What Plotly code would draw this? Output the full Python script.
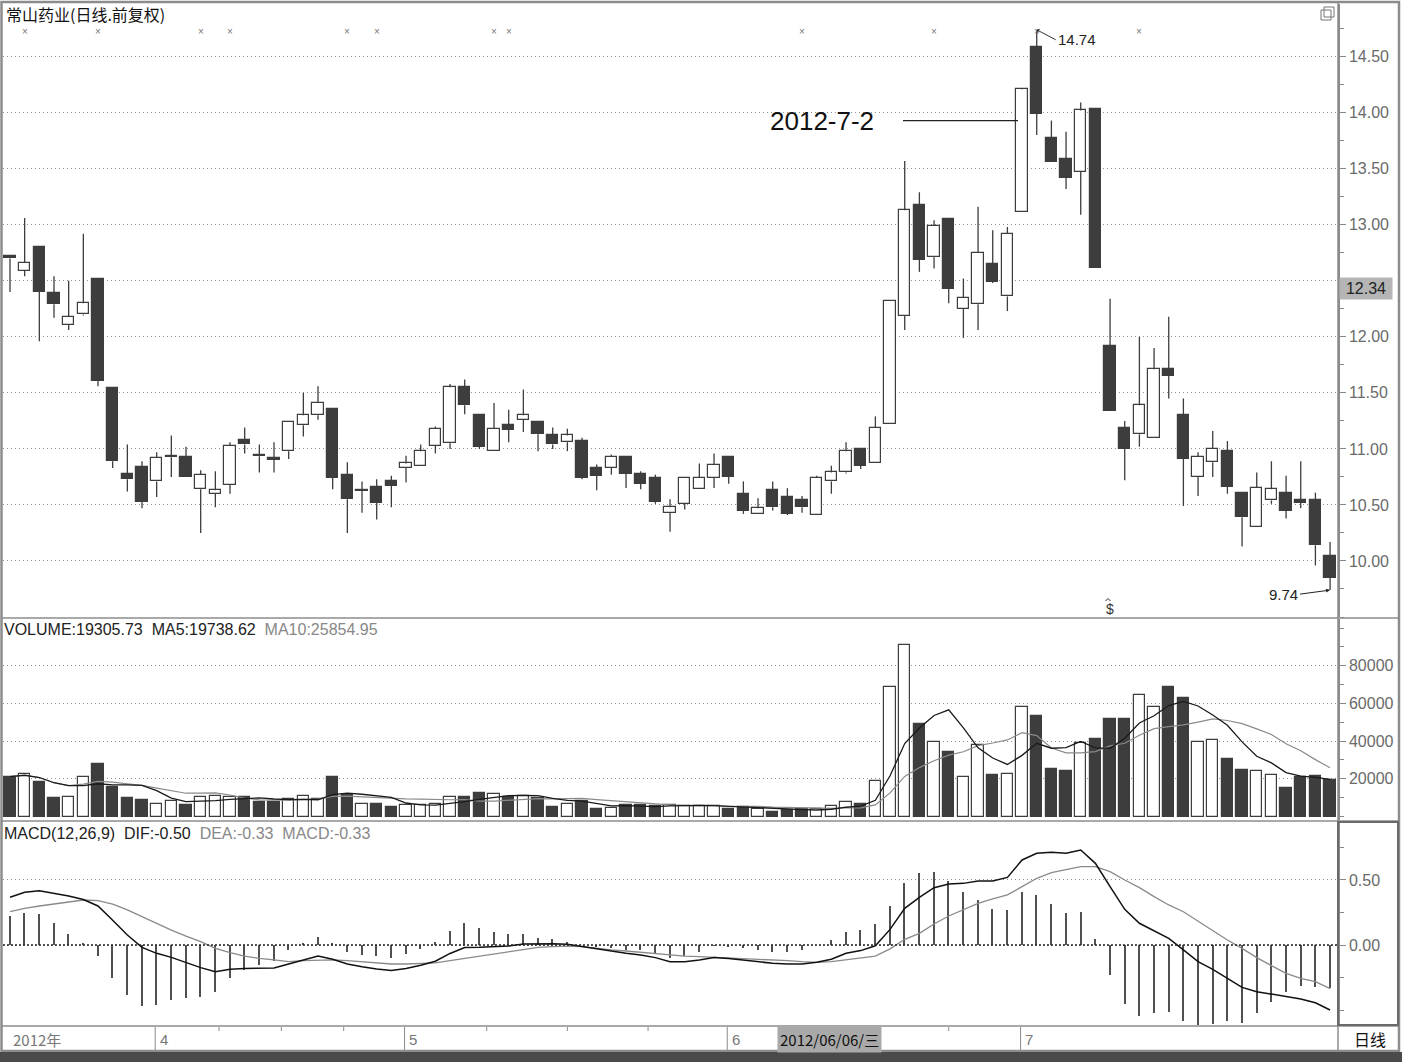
import plotly.graph_objects as go
import pandas as pd

# ---------------- data ----------------
open_ = [12.72,12.59,12.80,12.39,12.11,12.20,12.52,11.54,10.78,10.84,
         10.71,10.925,10.93,10.64,10.60,10.68,11.08,10.94,10.91,10.98,
         11.21,11.30,11.36,10.77,10.625,10.66,10.71,10.83,10.85,11.03,
         11.05,11.55,11.30,10.98,11.21,11.26,11.24,11.12,11.06,11.07,
         10.83,10.83,10.93,10.78,10.74,10.43,10.51,10.64,10.74,10.93,
         10.60,10.42,10.63,10.57,10.54,10.41,10.71,10.79,11.00,10.87,
         11.22,12.19,13.18,12.71,13.05,12.25,12.29,12.65,12.36,13.11,
         14.59,13.77,13.59,13.47,14.03,11.92,11.19,11.13,11.10,11.71,
         11.30,10.75,10.88,10.98,10.61,10.30,10.54,10.61,10.54,10.54,
         10.04]
high = [12.72,13.06,12.80,12.54,12.50,12.92,12.52,11.54,11.04,10.89,
        10.97,11.12,11.02,10.81,10.80,11.06,11.19,11.04,11.06,11.25,
        11.50,11.56,11.36,10.88,10.71,10.73,10.76,10.94,11.04,11.20,
        11.58,11.62,11.30,11.41,11.35,11.53,11.24,11.19,11.18,11.10,
        10.86,10.95,10.93,10.80,10.77,10.55,10.75,10.87,10.96,10.93,
        10.71,10.56,10.71,10.65,10.58,10.76,10.85,11.06,11.00,11.29,
        12.32,13.57,13.29,13.04,13.05,12.52,13.16,12.95,12.98,14.22,
        14.74,13.93,13.83,14.09,14.03,12.34,11.25,12.00,11.90,12.18,
        11.45,10.97,11.16,11.07,10.61,10.79,10.89,10.76,10.89,10.61,
        10.17]
low = [12.40,12.54,11.96,12.17,12.06,12.19,11.56,10.83,10.62,10.47,
       10.57,10.75,10.75,10.25,10.48,10.60,10.96,10.79,10.79,10.91,
       11.11,11.26,10.64,10.25,10.43,10.37,10.48,10.70,10.85,10.96,
       11.00,11.31,11.00,10.98,11.06,11.15,10.98,11.00,10.98,10.73,
       10.63,10.77,10.65,10.64,10.51,10.26,10.46,10.64,10.65,10.69,
       10.42,10.42,10.45,10.41,10.43,10.41,10.60,10.78,10.82,10.87,
       11.22,12.06,12.58,12.61,12.30,11.99,12.06,12.48,12.23,13.11,
       13.80,13.56,13.32,13.09,12.61,11.34,10.72,11.02,11.10,11.45,
       10.49,10.58,10.75,10.60,10.13,10.30,10.51,10.38,10.47,9.96,
       9.74]
close = [12.70,12.66,12.40,12.29,12.18,12.30,11.61,10.89,10.73,10.53,
         10.92,10.935,10.75,10.77,10.63,11.03,11.04,10.935,10.905,11.24,
         11.30,11.41,10.74,10.55,10.635,10.52,10.67,10.87,10.98,11.18,
         11.55,11.39,11.02,11.18,11.17,11.30,11.13,11.04,11.12,10.74,
         10.76,10.93,10.78,10.69,10.53,10.48,10.74,10.74,10.86,10.75,
         10.45,10.47,10.48,10.42,10.48,10.74,10.79,10.98,10.85,11.19,
         12.32,13.13,12.69,12.99,12.43,12.35,12.75,12.49,12.92,14.21,
         13.99,13.56,13.42,14.02,12.61,11.34,11.00,11.39,11.71,11.65,
         10.91,10.93,11.00,10.66,10.39,10.65,10.64,10.45,10.52,10.14,
         9.85]
volume = [21200,22600,18300,9600,10300,20900,27800,15500,9600,9000,
          6600,8200,6100,10300,11000,10100,10300,7500,7500,9400,
          10800,9200,21200,11300,6600,6600,5200,6100,6100,6400,
          10300,10400,12500,11700,10400,10800,9900,5200,6600,8200,
          3800,4300,6100,6100,5700,6100,5700,5700,5700,3800,
          4900,3800,2400,3500,3800,3800,5700,7800,6600,19000,
          69000,91200,49200,39800,34000,21200,38100,22100,22800,58100,
          53100,25100,23900,38900,41400,51700,51700,64600,58100,68500,
          62800,39400,40800,30700,24500,24400,22000,15000,21000,21400,
          19305.73]
dif = [0.367,0.405,0.418,0.400,0.377,0.350,0.300,0.190,0.077,-0.018,
       -0.064,-0.095,-0.136,-0.174,-0.205,-0.187,-0.180,-0.180,-0.177,-0.146,
       -0.115,-0.085,-0.110,-0.146,-0.167,-0.185,-0.197,-0.180,-0.156,-0.125,
       -0.065,-0.020,-0.018,-0.013,-0.008,0.008,0.010,0.010,0.005,-0.013,
       -0.033,-0.050,-0.064,-0.077,-0.097,-0.128,-0.128,-0.115,-0.097,-0.103,
       -0.115,-0.128,-0.141,-0.146,-0.146,-0.133,-0.110,-0.064,-0.043,-0.006,
       0.120,0.282,0.367,0.441,0.469,0.474,0.492,0.492,0.520,0.654,
       0.705,0.713,0.705,0.731,0.628,0.449,0.274,0.167,0.110,0.051,
       -0.038,-0.128,-0.187,-0.256,-0.326,-0.359,-0.377,-0.397,-0.415,-0.444,
       -0.500]
dea = [0.256,0.282,0.300,0.315,0.333,0.346,0.341,0.315,0.270,0.218,
       0.167,0.115,0.069,0.026,-0.026,-0.059,-0.085,-0.103,-0.115,-0.128,
       -0.120,-0.115,-0.115,-0.120,-0.128,-0.141,-0.146,-0.146,-0.141,-0.138,
       -0.120,-0.103,-0.085,-0.064,-0.050,-0.033,-0.018,-0.013,-0.008,-0.013,
       -0.026,-0.038,-0.046,-0.056,-0.064,-0.077,-0.085,-0.090,-0.095,-0.097,
       -0.103,-0.108,-0.115,-0.120,-0.128,-0.133,-0.128,-0.115,-0.100,-0.085,
       -0.030,0.044,0.090,0.162,0.223,0.269,0.320,0.354,0.385,0.449,
       0.513,0.556,0.582,0.603,0.603,0.564,0.500,0.441,0.372,0.308,
       0.256,0.185,0.115,0.038,-0.026,-0.097,-0.159,-0.218,-0.256,-0.282,
       -0.335]

month_tick_pos = [0, 10, 27, 49, 69]
month_tick_text = ["2012年", "4", "5", "6", "7"]
info_marker_idx = [1, 6, 13, 15, 23, 25, 33, 34, 54, 63, 70, 77]
price_ticks = [10.0, 10.5, 11.0, 11.5, 12.0, 12.5, 13.0, 13.5, 14.0, 14.5]
price_tick_text = ["10.00", "10.50", "11.00", "11.50", "12.00", "", "13.00",
                   "13.50", "14.00", "14.50"]   # 12.50 is covered by the 12.34 box
vol_ticks = [20000, 40000, 60000, 80000]
macd_ticks = [0.0, 0.5]

title_text = "常山药业(日线.前复权)"
vol_label = ("<span style='color:#222'>VOLUME:19305.73  MA5:19738.62</span>  "
             "<span style='color:#888'>MA10:25854.95</span>")
macd_label = ("<span style='color:#222'>MACD(12,26,9)  DIF:-0.50</span>  "
              "<span style='color:#888'>DEA:-0.33  MACD:-0.33</span>")

# ---------------- derived ----------------
n = len(close)
xs = list(range(n))
rising = [c >= o for o, c in zip(open_, close)]
DARK = "#3d3d3d"
fills = ["#ffffff" if r else DARK for r in rising]
body_base = [min(o, c) for o, c in zip(open_, close)]
body_h = [max(abs(c - o), 0.012) for o, c in zip(open_, close)]

wx, wy = [], []
for i in xs:
    top = max(open_[i], close[i]); bot = min(open_[i], close[i])
    if high[i] > top:
        wx += [i, i, None]; wy += [top, high[i], None]
    if low[i] < bot:
        wx += [i, i, None]; wy += [low[i], bot, None]

vs = pd.Series(volume)
ma5 = vs.rolling(5, min_periods=1).mean()
ma10 = vs.rolling(10, min_periods=1).mean()
hist = [2 * (d - e) for d, e in zip(dif, dea)]

FONT = "Liberation Sans, Arial, sans-serif"
CJK = "Noto Sans CJK SC, sans-serif"
GRIDDASH = "1px,3px"

def xp(px):
    return (px - 3) / 1335.0

def yp(py):
    return (1025 - py) / 1021.0

fig = go.Figure()
# price
fig.add_trace(go.Scatter(x=wx, y=wy, mode="lines", line=dict(color=DARK, width=1.3),
                         hoverinfo="skip", xaxis="x", yaxis="y"))
fig.add_trace(go.Bar(x=xs, y=body_h, base=body_base, width=0.78,
                     marker=dict(color=fills, line=dict(color=DARK, width=1.2)),
                     xaxis="x", yaxis="y"))
# volume
fig.add_trace(go.Bar(x=xs, y=volume, width=0.78,
                     marker=dict(color=fills, line=dict(color=DARK, width=1.2)),
                     xaxis="x2", yaxis="y2"))
fig.add_trace(go.Scatter(x=xs, y=ma10, mode="lines", line=dict(color="#8a8a8a", width=1.2),
                         xaxis="x2", yaxis="y2"))
fig.add_trace(go.Scatter(x=xs, y=ma5, mode="lines", line=dict(color="#1a1a1a", width=1.3),
                         xaxis="x2", yaxis="y2"))
# macd
fig.add_trace(go.Bar(x=xs, y=hist, width=0.1, marker=dict(color="#505050", line=dict(width=0)),
                     xaxis="x3", yaxis="y3"))
fig.add_trace(go.Scatter(x=xs, y=dea, mode="lines", line=dict(color="#8a8a8a", width=1.3),
                         xaxis="x3", yaxis="y3"))
fig.add_trace(go.Scatter(x=xs, y=dif, mode="lines", line=dict(color="#111111", width=1.5),
                         xaxis="x3", yaxis="y3"))

xr = [-0.477, 90.54]
xcommon = dict(range=xr, showgrid=False, zeroline=False, showticklabels=False,
               ticks="", showline=False, fixedrange=True)
ycommon = dict(side="right", showgrid=True, gridcolor="#8f8f8f", griddash=GRIDDASH,
               gridwidth=1, zeroline=False, showline=True, linecolor="#8a8a8a",
               linewidth=1.5, ticks="outside", ticklen=6, tickcolor="#888",
               tickfont=dict(family=FONT, size=16, color="#6a6a6a"))

fig.update_layout(
    width=1402, height=1062,
    margin=dict(l=3, r=64, t=4, b=37, pad=0),
    paper_bgcolor="white", plot_bgcolor="white",
    showlegend=False, bargap=0,
    xaxis=dict(domain=[0, 1], anchor="y", **xcommon),
    xaxis2=dict(domain=[0, 1], anchor="y2", matches="x", **xcommon),
    xaxis3=dict(domain=[0, 1], anchor="y3", matches="x", **xcommon),
    yaxis=dict(domain=[yp(617), 1.0], range=[9.5, 14.97], anchor="x",
               tickvals=price_ticks, ticktext=price_tick_text,
               minor=dict(dtick=0.25, tick0=0, ticks="outside", ticklen=4,
                          tickcolor="#888", showgrid=False), **ycommon),
    yaxis2=dict(domain=[yp(820), yp(619)], range=[-1860, 104860], anchor="x2",
                tickvals=vol_ticks, ticktext=[str(v) for v in vol_ticks],
                minor=dict(dtick=10000, tick0=0, ticks="outside", ticklen=4,
                           tickcolor="#888", showgrid=False), **ycommon),
    yaxis3=dict(domain=[0, yp(822)], range=[-0.6154, 0.9461], anchor="x3",
                tickvals=macd_ticks, ticktext=[f"{v:.2f}" for v in macd_ticks],
                minor=dict(dtick=0.25, tick0=0, ticks="outside", ticklen=4,
                           tickcolor="#888", showgrid=False), **ycommon),
)

shapes = []
annos = []
# MACD zero line (dotted dark)
shapes.append(dict(type="line", xref="paper", yref="y3", x0=0, x1=1, y0=0, y1=0,
                   line=dict(color="#222", width=1.3, dash="2px,2px")))
# frame
LG = "#8c8c8c"
shapes.append(dict(type="rect", xref="paper", yref="paper", x0=xp(1.5), x1=xp(1399),
                   y0=yp(1051), y1=yp(2), line=dict(color=LG, width=2.5)))
for py in (618, 821, 1026):
    shapes.append(dict(type="line", xref="paper", yref="paper", x0=xp(1.5), x1=xp(1399),
                       y0=yp(py), y1=yp(py), line=dict(color=LG, width=1.5)))
shapes.append(dict(type="line", xref="paper", yref="paper", x0=xp(1338), x1=xp(1338),
                   y0=yp(1051), y1=yp(2), line=dict(color=LG, width=1.5)))
shapes.append(dict(type="rect", xref="paper", yref="paper", x0=xp(1338), x1=xp(1398),
                   y0=yp(1025), y1=yp(822), line=dict(color="#6a6a6a", width=2)))
shapes.append(dict(type="rect", xref="paper", yref="paper", x0=xp(0), x1=xp(1402),
                   y0=yp(1062), y1=yp(1052), fillcolor="#4a4a4a", line=dict(width=0)))
# restore icon
shapes.append(dict(type="rect", xref="paper", yref="paper", x0=xp(1321), x1=xp(1331),
                   y0=yp(20), y1=yp(10), line=dict(color="#777", width=1)))
shapes.append(dict(type="rect", xref="paper", yref="paper", x0=xp(1324), x1=xp(1334),
                   y0=yp(17), y1=yp(7), line=dict(color="#777", width=1)))
# month separators and quarter ticks
for k, pos in enumerate(month_tick_pos):
    if k > 0:
        shapes.append(dict(type="line", xref="x3", yref="paper", x0=pos - 0.1, x1=pos - 0.1,
                           y0=yp(1050), y1=yp(1027), line=dict(color="#8a8a8a", width=1)))
    annos.append(dict(x=pos, y=yp(1039), xref="x3", yref="paper", text=month_tick_text[k],
                      showarrow=False, xanchor="left", yanchor="middle", xshift=1,
                      font=dict(family=CJK if k == 0 else FONT, size=15, color="#777")))
for a, b in zip(month_tick_pos[1:-1], month_tick_pos[2:]):
    for q in (1, 2, 3):
        t = a + q * (b - a) / 4.0
        shapes.append(dict(type="line", xref="x3", yref="paper", x0=t, x1=t,
                           y0=yp(1031), y1=yp(1027), line=dict(color="#8a8a8a", width=1)))
# date cursor box
annos.append(dict(x=52, y=yp(1039), xref="x3", yref="paper", text="2012/06/06/三",
                  showarrow=False, xanchor="left", yanchor="middle", xshift=4,
                  bgcolor="#a9a9a9", borderpad=2,
                  font=dict(family=CJK, size=15, color="#111")))
annos.append(dict(x=xp(1352), y=yp(1039), xref="paper", yref="paper", text="日线",
                  showarrow=False, xanchor="left", yanchor="middle",
                  font=dict(family=CJK, size=16, color="#111")))
# title and panel labels
annos.append(dict(x=xp(4), y=yp(14), xref="paper", yref="paper", text=title_text,
                  showarrow=False, xanchor="left", yanchor="middle",
                  font=dict(family=CJK, size=16, color="#111")))
annos.append(dict(x=xp(2), y=yp(629), xref="paper", yref="paper", text=vol_label,
                  showarrow=False, xanchor="left", yanchor="middle",
                  font=dict(family=FONT, size=16, color="#222")))
annos.append(dict(x=xp(2), y=yp(833), xref="paper", yref="paper", text=macd_label,
                  showarrow=False, xanchor="left", yanchor="middle",
                  font=dict(family=FONT, size=16, color="#222")))
# current price box
annos.append(dict(x=xp(1339), y=yp(288), xref="paper", yref="paper", text="12.34",
                  showarrow=False, xanchor="left", yanchor="middle",
                  bgcolor="#b5b5b5", borderpad=2, width=48,
                  font=dict(family=FONT, size=16, color="#222")))
# info markers
for i in info_marker_idx:
    annos.append(dict(x=i, y=yp(32), xref="x", yref="paper", text="×", showarrow=False,
                      yanchor="middle", font=dict(family=FONT, size=10, color="#777")))
# high / low labels
annos.append(dict(x=70, y=high[70], xref="x", yref="y", text="14.74", showarrow=True,
                  ax=19, ay=10, xanchor="left", yanchor="middle", arrowhead=1,
                  arrowsize=0.8, arrowwidth=1, arrowcolor="#333",
                  font=dict(family=FONT, size=15, color="#222")))
annos.append(dict(x=90, y=low[90], xref="x", yref="y", text="9.74", showarrow=True,
                  ax=-30, ay=4, xanchor="right", yanchor="middle", arrowhead=2,
                  arrowsize=0.8, arrowwidth=1, arrowcolor="#222",
                  font=dict(family=FONT, size=15, color="#222")))
# 2012-7-2 callout
annos.append(dict(x=xp(876), y=13.93, xref="paper", yref="y", text="2012-7-2",
                  showarrow=False, xanchor="right", yanchor="middle",
                  font=dict(family=FONT, size=26, color="#111")))
shapes.append(dict(type="line", xref="paper", yref="y", x0=xp(903), x1=xp(1018),
                   y0=13.93, y1=13.93, line=dict(color="#222", width=1.3)))
# S marker (with a hat) under the limit-down candle
annos.append(dict(x=75, y=yp(609), xref="x", yref="paper", text="$", showarrow=False,
                  yanchor="middle", font=dict(family=FONT, size=14, color="#333")))
shapes.append(dict(type="path", xref="paper", yref="paper",
                   path=(f"M {xp(1105.5)} {yp(601)} L {xp(1108)} {yp(598.5)} "
                         f"L {xp(1110.5)} {yp(601)}"),
                   line=dict(color="#333", width=1)))

fig.update_layout(shapes=shapes, annotations=annos)
fig.write_html("out.html", config={"displayModeBar": False},
               post_script="document.body.style.margin='0';")
